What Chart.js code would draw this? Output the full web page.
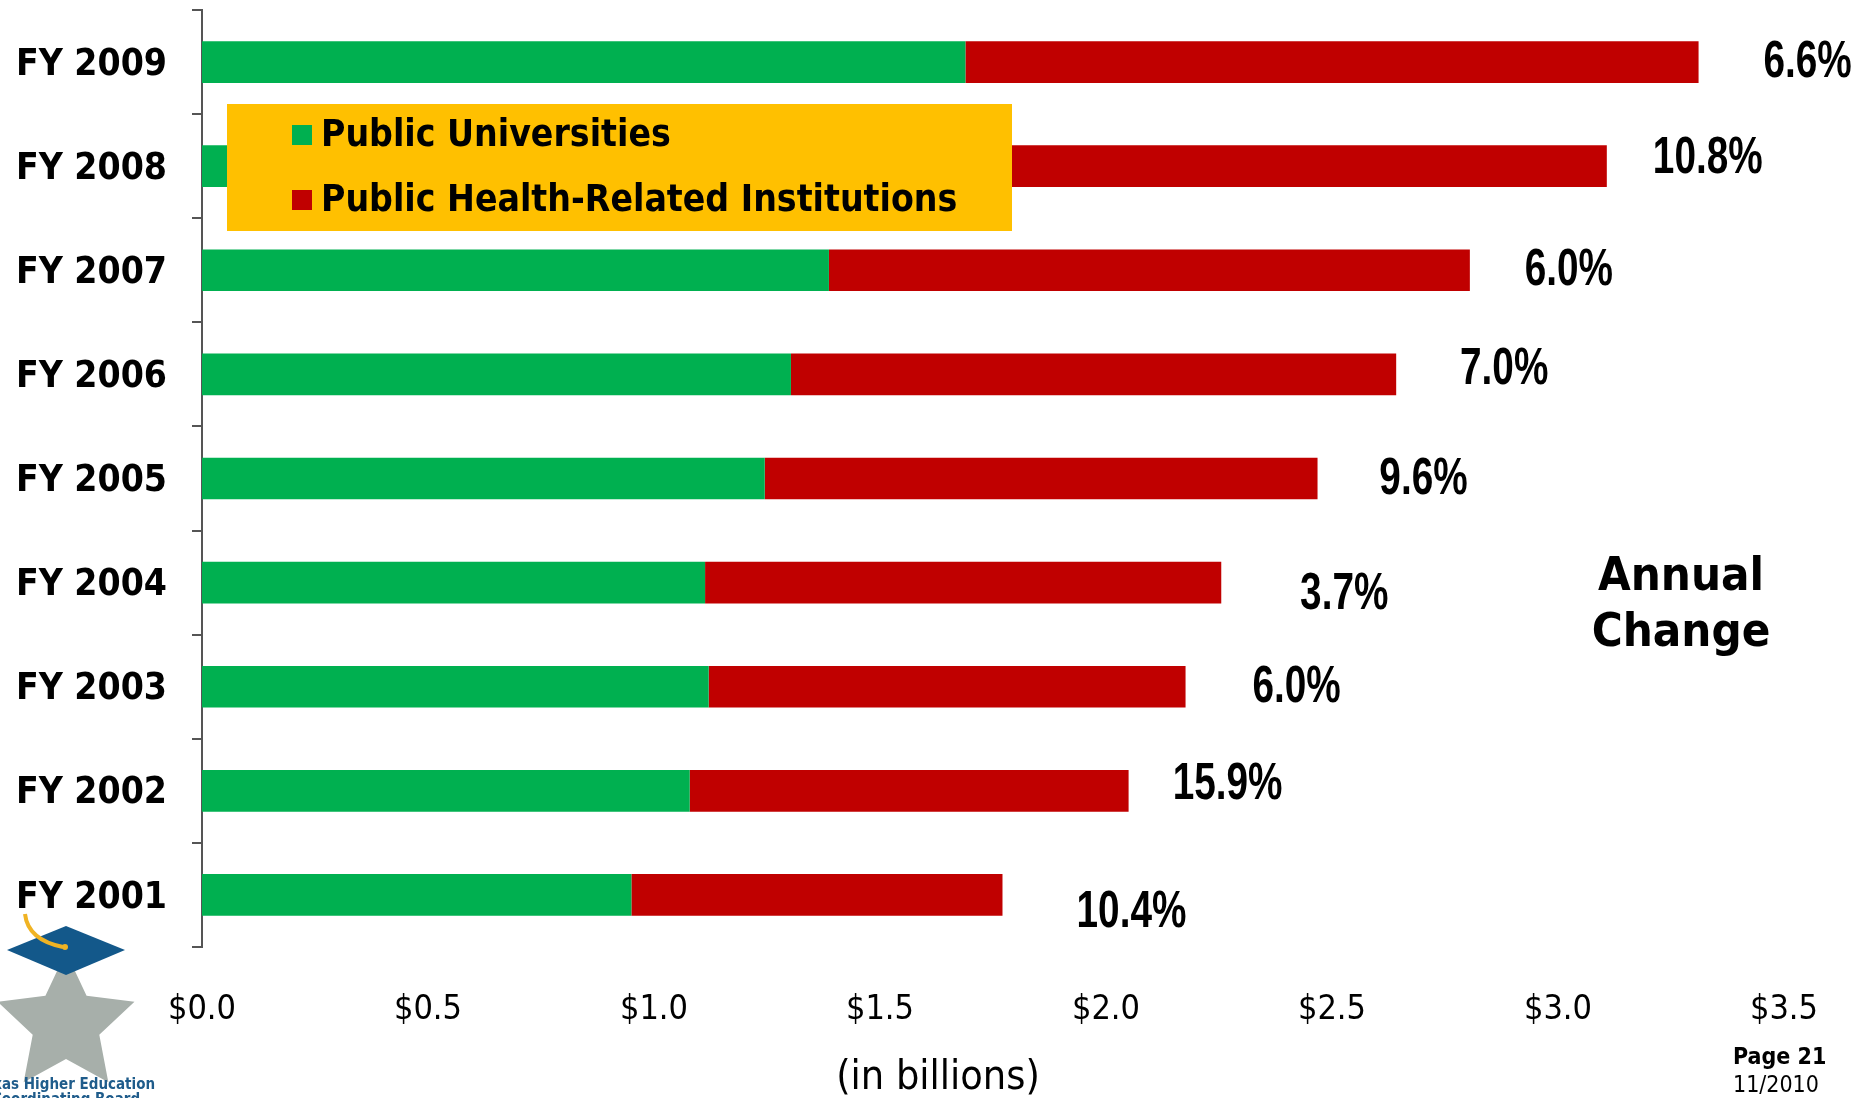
<!DOCTYPE html>
<html>
<head>
<meta charset="utf-8">
<title>Appropriations by Fiscal Year</title>
<script src="https://cdn.jsdelivr.net/npm/chart.js@4.4.0/dist/chart.umd.min.js"></script>
<style>
  html, body { margin: 0; padding: 0; background: #fff; }
  #wrap { width: 1866px; height: 1098px; position: relative; }
</style>
</head>
<body>
<div id="wrap"><canvas id="chart" width="1866" height="1098"></canvas></div>
<script>
// values in billions of dollars, top row first
const years = ['FY 2009', 'FY 2008', 'FY 2007', 'FY 2006', 'FY 2005', 'FY 2004', 'FY 2003', 'FY 2002', 'FY 2001'];
const universities = [1.689, 1.550, 1.387, 1.303, 1.245, 1.113, 1.121, 1.079, 0.950];
const healthRelated = [1.622, 1.558, 1.418, 1.339, 1.223, 1.142, 1.055, 0.971, 0.821];
const annualChange = ['6.6%', '10.8%', '6.0%', '7.0%', '9.6%', '3.7%', '6.0%', '15.9%', '10.4%'];
const seriesNames = ['Public Universities', 'Public Health-Related Institutions'];

// where each percent label sits relative to its bar end (px), as placed on the slide
const labelDx = [109, 101, 99, 108, 106, 123, 111, 99, 129];
const labelDy = [1, -7, 1, -4, 1, 12, 1, -6, 18];

const GREEN = '#00B050';
const RED = '#C00000';
const YELLOW = '#FFC000';
const SANS = '"DejaVu Sans Condensed", "DejaVu Sans", sans-serif';
const NARROW = '"Liberation Sans", Arial, sans-serif';

// legend box, percent labels, side notes and logo
const overlay = {
    id: 'overlay',
    afterDatasetsDraw(chart) {
        const { ctx, chartArea } = chart;
        ctx.save();

        // yellow legend box over the FY 2008 row
        const bx = chartArea.left + 25, by = chartArea.top + 94;
        ctx.fillStyle = YELLOW;
        ctx.fillRect(bx, by, 785, 127);
        chart.data.datasets.forEach((ds, i) => {
            const cy = by + 31 + i * 65;
            ctx.fillStyle = ds.backgroundColor;
            ctx.fillRect(bx + 65, cy - 10, 20, 20);
            ctx.fillStyle = '#000';
            ctx.font = 'bold 37px ' + SANS;
            ctx.textAlign = 'left';
            ctx.textBaseline = 'middle';
            ctx.fillText(ds.label, bx + 94, cy + 1);
        });

        // annual change next to each bar end (narrow bold type)
        const meta = chart.getDatasetMeta(1);
        ctx.font = 'bold 51px ' + NARROW;
        ctx.textAlign = 'center';
        ctx.textBaseline = 'middle';
        ctx.fillStyle = '#000';
        meta.data.forEach((bar, i) => {
            ctx.save();
            ctx.translate(bar.x + labelDx[i], bar.y + labelDy[i]);
            ctx.scale(0.76, 1);
            ctx.fillText(annualChange[i], 0, 0);
            ctx.restore();
        });
        ctx.restore();
    },
    afterDraw(chart) {
        const { ctx } = chart;
        ctx.save();
        ctx.fillStyle = '#000';
        ctx.textAlign = 'center';
        ctx.textBaseline = 'middle';

        ctx.font = 'bold 47px ' + SANS;
        ctx.fillText('Annual', 1681, 578);
        ctx.fillText('Change', 1681, 634);

        ctx.font = '41px ' + SANS;
        ctx.fillText('(in billions)', 938, 1078);

        ctx.textAlign = 'left';
        ctx.font = 'bold 23px ' + SANS;
        ctx.fillText('Page 21', 1733, 1058);
        ctx.font = '23px ' + SANS;
        ctx.fillText('11/2010', 1733, 1086);

        // agency logo, bottom left
        const cx = 66, cy = 1024, R = 72, r = 35;
        ctx.fillStyle = '#A7AFAA';
        ctx.beginPath();
        for (let k = 0; k < 10; k++) {
            const rad = k % 2 === 0 ? R : r;
            const a = -Math.PI / 2 + k * Math.PI / 5;
            const px = cx + rad * Math.cos(a), py = cy + rad * Math.sin(a);
            if (k === 0) ctx.moveTo(px, py); else ctx.lineTo(px, py);
        }
        ctx.closePath();
        ctx.fill();

        ctx.fillStyle = '#13588A';
        ctx.beginPath();
        ctx.moveTo(66, 926);
        ctx.lineTo(125, 950);
        ctx.lineTo(66, 975);
        ctx.lineTo(7, 950);
        ctx.closePath();
        ctx.fill();

        ctx.strokeStyle = '#F0B323';
        ctx.lineWidth = 4;
        ctx.beginPath();
        ctx.moveTo(25, 914);
        ctx.quadraticCurveTo(28, 940, 63, 947);
        ctx.stroke();
        ctx.fillStyle = '#F0B323';
        ctx.beginPath();
        ctx.arc(65, 947, 3, 0, Math.PI * 2);
        ctx.fill();

        ctx.fillStyle = '#1F5C8B';
        ctx.textAlign = 'center';
        ctx.font = 'bold 15px ' + SANS;
        ctx.fillText('Texas Higher Education', 66, 1085);
        ctx.fillText('Coordinating Board', 66, 1100);
        ctx.restore();
    }
};

new Chart(document.getElementById('chart'), {
    type: 'bar',
    data: {
        labels: years,
        datasets: [
            { label: seriesNames[0], data: universities, backgroundColor: GREEN },
            { label: seriesNames[1], data: healthRelated, backgroundColor: RED }
        ]
    },
    options: {
        responsive: false,
        animation: false,
        indexAxis: 'y',
        layout: { padding: { top: 10, right: 82, left: 0, bottom: 0 } },
        datasets: { bar: { barPercentage: 0.4, categoryPercentage: 1.0 } },
        plugins: {
            legend: { display: false },
            tooltip: { enabled: false }
        },
        scales: {
            x: {
                stacked: true,
                min: 0,
                max: 3.5,
                ticks: {
                    stepSize: 0.5,
                    color: '#000',
                    padding: 35,
                    font: { family: SANS, size: 34 },
                    callback: v => '$' + Number(v).toFixed(1)
                },
                grid: { display: false },
                border: { display: false },
                afterFit: s => { s.height = 151; }
            },
            y: {
                stacked: true,
                ticks: {
                    color: '#000',
                    padding: 25,
                    font: { family: SANS, size: 37, weight: 'bold', lineHeight: 1.0 },
                    labelOffset: 3
                },
                grid: { drawOnChartArea: false, tickLength: 10, color: '#555', lineWidth: 2 },
                border: { color: '#555', width: 2 },
                afterFit: s => {
                    s.width = 202;
                    s.paddingTop = 0;
                    s.paddingBottom = 0;
                }
            }
        }
    },
    plugins: [overlay]
});
</script>
</body>
</html>
